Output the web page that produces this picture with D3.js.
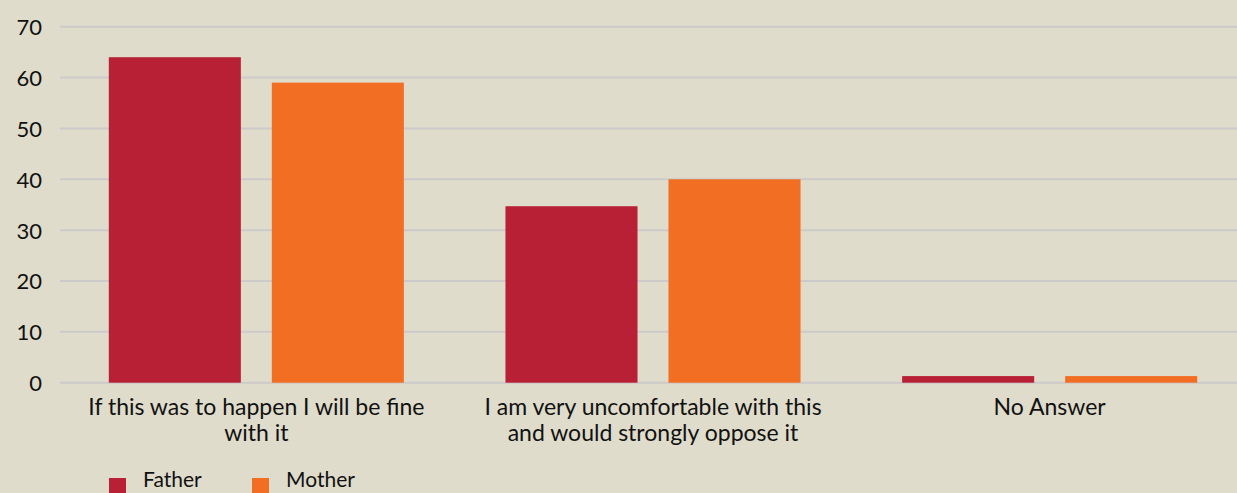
<!DOCTYPE html>
<html><head><meta charset="utf-8">
<script src="https://cdn.jsdelivr.net/npm/d3@7"></script>
<style>
html,body{margin:0;padding:0;background:#dfdccb;overflow:hidden}
svg{display:block}
text{font-family:Lato,"Noto Sans",sans-serif;fill:#111}
</style></head><body>
<svg id="c" width="1237" height="493"></svg>
<script>
const categories = ["If this was to happen I will be fine with it","I am very uncomfortable with this and would strongly oppose it","No Answer"];
const categoryLines = [["If this was to happen I will be fine","with it"],["I am very uncomfortable with this","and would strongly oppose it"],["No Answer"]];
const seriesNames = ["Father","Mother"];
const father = [64, 34.7, 1.3];
const mother = [59, 40, 1.3];
const yTicks = [0,10,20,30,40,50,60,70];
const colors = ["#b82035","#f26e22"];

const svg = d3.select("#c");
const W = 1237, H = 493;
svg.append("rect").attr("width",W).attr("height",H).attr("fill","#dfdccb");

const x = d3.scaleBand().domain(categories).range([58, 1248]).paddingInner(0).paddingOuter(0);
const x1 = d3.scaleBand().domain(seriesNames).range([50.8, x.bandwidth()-50.8]).paddingInner(0.19).paddingOuter(0);
const y = d3.scaleLinear().domain([0,70]).range([382.7, 26.7]);

// gridlines
svg.append("g").selectAll("line").data(yTicks).join("line")
  .attr("x1",60).attr("x2",W).attr("y1",d=>y(d)).attr("y2",d=>y(d))
  .attr("stroke","#cccaca").attr("stroke-width",2);

// y axis labels
const yAxis = d3.axisLeft(y).tickValues(yTicks).tickSize(0).tickPadding(0);
const ga = svg.append("g").attr("transform","translate(42,0)").call(yAxis);
ga.select(".domain").remove();
ga.selectAll("text").style("font-family","Lato,'Noto Sans',sans-serif").style("font-size","22px").attr("fill","#111").attr("dy","0.36em");

// bars
const data = categories.map((c,i)=>({c, vals:[{s:"Father",v:father[i]},{s:"Mother",v:mother[i]}]}));
const groups = svg.append("g").selectAll("g").data(data).join("g")
  .attr("transform",d=>`translate(${x(d.c)},0)`);
groups.selectAll("rect").data(d=>d.vals).join("rect")
  .attr("x",d=>x1(d.s)).attr("width",x1.bandwidth())
  .attr("y",d=>y(d.v)).attr("height",d=>y(0)-y(d.v))
  .attr("fill",(d,i)=>colors[i]);

// category labels
const cl = svg.append("g").selectAll("text").data(categories).join("text")
  .attr("x",d=>x(d)+x.bandwidth()/2).attr("y",415).attr("text-anchor","middle")
  .style("font-size","23px");
cl.each(function(d,i){
  const t = d3.select(this);
  categoryLines[i].forEach((ln,j)=>{
    t.append("tspan").attr("x",x(d)+x.bandwidth()/2).attr("dy",j===0?0:26).text(ln);
  });
});

// legend
const lg = svg.append("g");
const lx = [109, 252];
seriesNames.forEach((s,i)=>{
  lg.append("rect").attr("x",lx[i]).attr("y",478).attr("width",17).attr("height",15).attr("fill",colors[i]);
  lg.append("text").attr("x",lx[i]+34).attr("y",487).style("font-size","21px").text(s);
});
</script></body></html>
